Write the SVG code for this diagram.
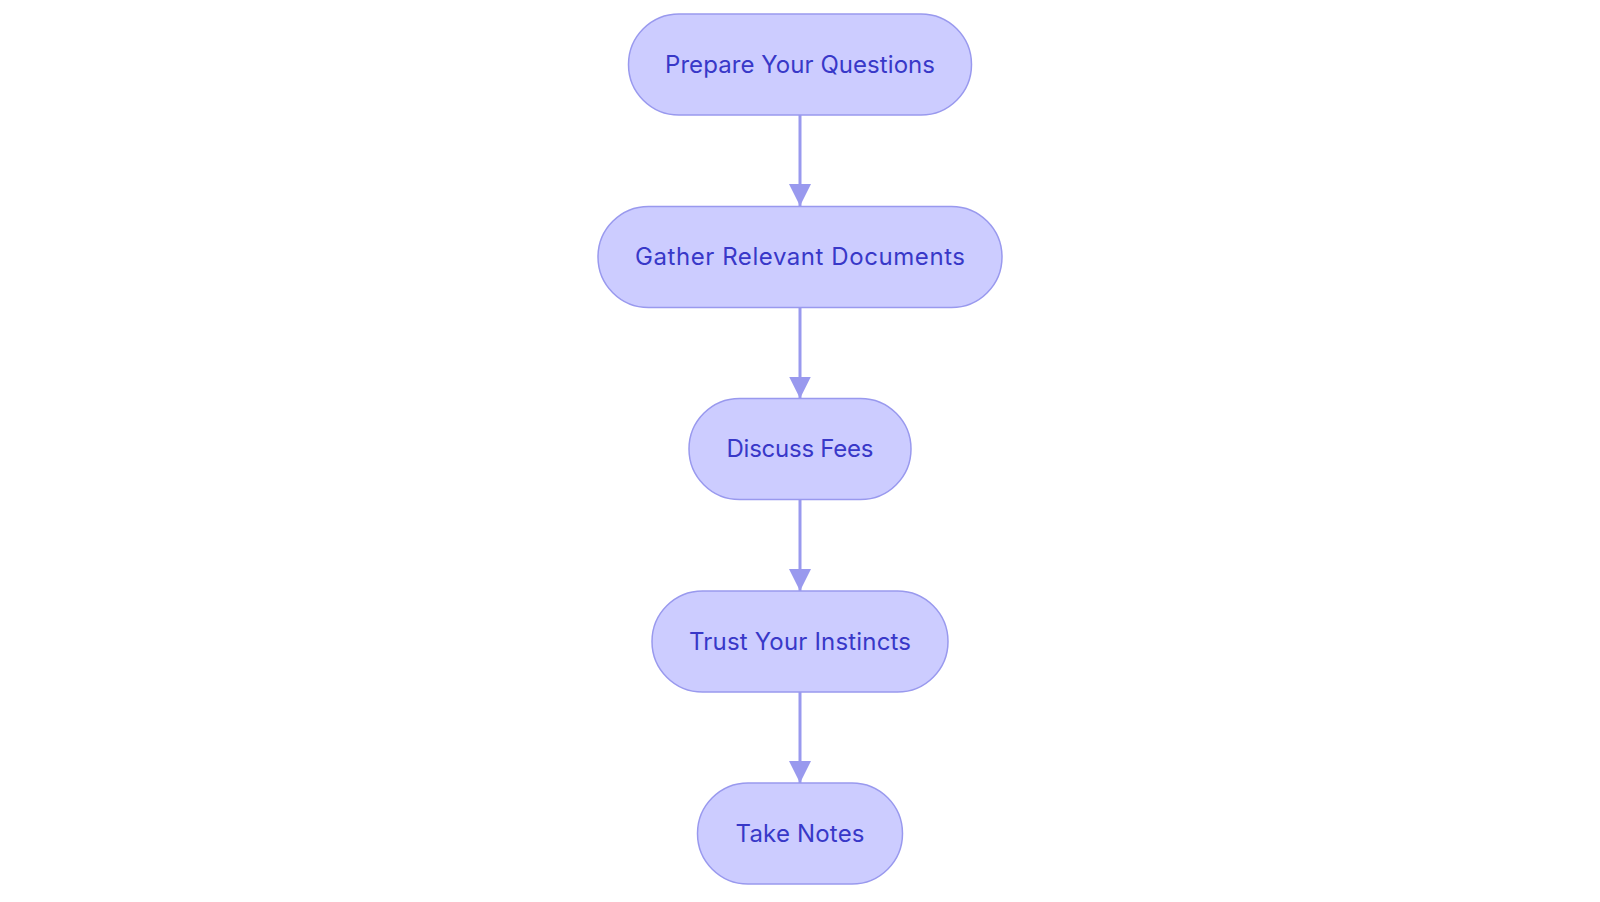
<svg xmlns="http://www.w3.org/2000/svg" width="1600" height="902" viewBox="0 0 1600 902">
<style>
.node rect{fill:#ccccff;stroke:#9999ee;stroke-width:1.5}
.node text{font-family:Inter,"Noto Sans",sans-serif;font-size:24px;fill:#3838c8;text-anchor:middle;dominant-baseline:central}
.edge{stroke:#9999ee;stroke-width:3;fill:none}
</style>
<defs>
<marker id="arr" viewBox="0 0 22 22" refX="22" refY="11" markerWidth="22" markerHeight="22" markerUnits="userSpaceOnUse" orient="auto">
<path d="M0,0 L22,11 L0,22 z" fill="#9999ee"/>
</marker>
</defs>
<rect width="1600" height="902" fill="#ffffff"/>
<g id="edges">
<line class="edge" x1="800" y1="115" x2="800" y2="206" marker-end="url(#arr)"/>
<line class="edge" x1="800" y1="307.5" x2="800" y2="398.5" marker-end="url(#arr)"/>
<line class="edge" x1="800" y1="499.5" x2="800" y2="591" marker-end="url(#arr)"/>
<line class="edge" x1="800" y1="692" x2="800" y2="783" marker-end="url(#arr)"/>
</g>
<g id="n1" class="node"><rect x="628.5" y="14" width="343" height="101" rx="50.5"/><text x="800" y="64" textLength="270" lengthAdjust="spacing">Prepare Your Questions</text></g>
<g id="n2" class="node"><rect x="598" y="206.5" width="404" height="101" rx="50.5"/><text x="800" y="256.5" textLength="330" lengthAdjust="spacing">Gather Relevant Documents</text></g>
<g id="n3" class="node"><rect x="689" y="398.5" width="222" height="101" rx="50.5"/><text x="800" y="448.5" textLength="147" lengthAdjust="spacing">Discuss Fees</text></g>
<g id="n4" class="node"><rect x="652" y="591" width="296" height="101" rx="50.5"/><text x="800" y="641" textLength="222" lengthAdjust="spacing">Trust Your Instincts</text></g>
<g id="n5" class="node"><rect x="697.5" y="783" width="205" height="101" rx="50.5"/><text x="800" y="833" textLength="129" lengthAdjust="spacing">Take Notes</text></g>
</svg>
